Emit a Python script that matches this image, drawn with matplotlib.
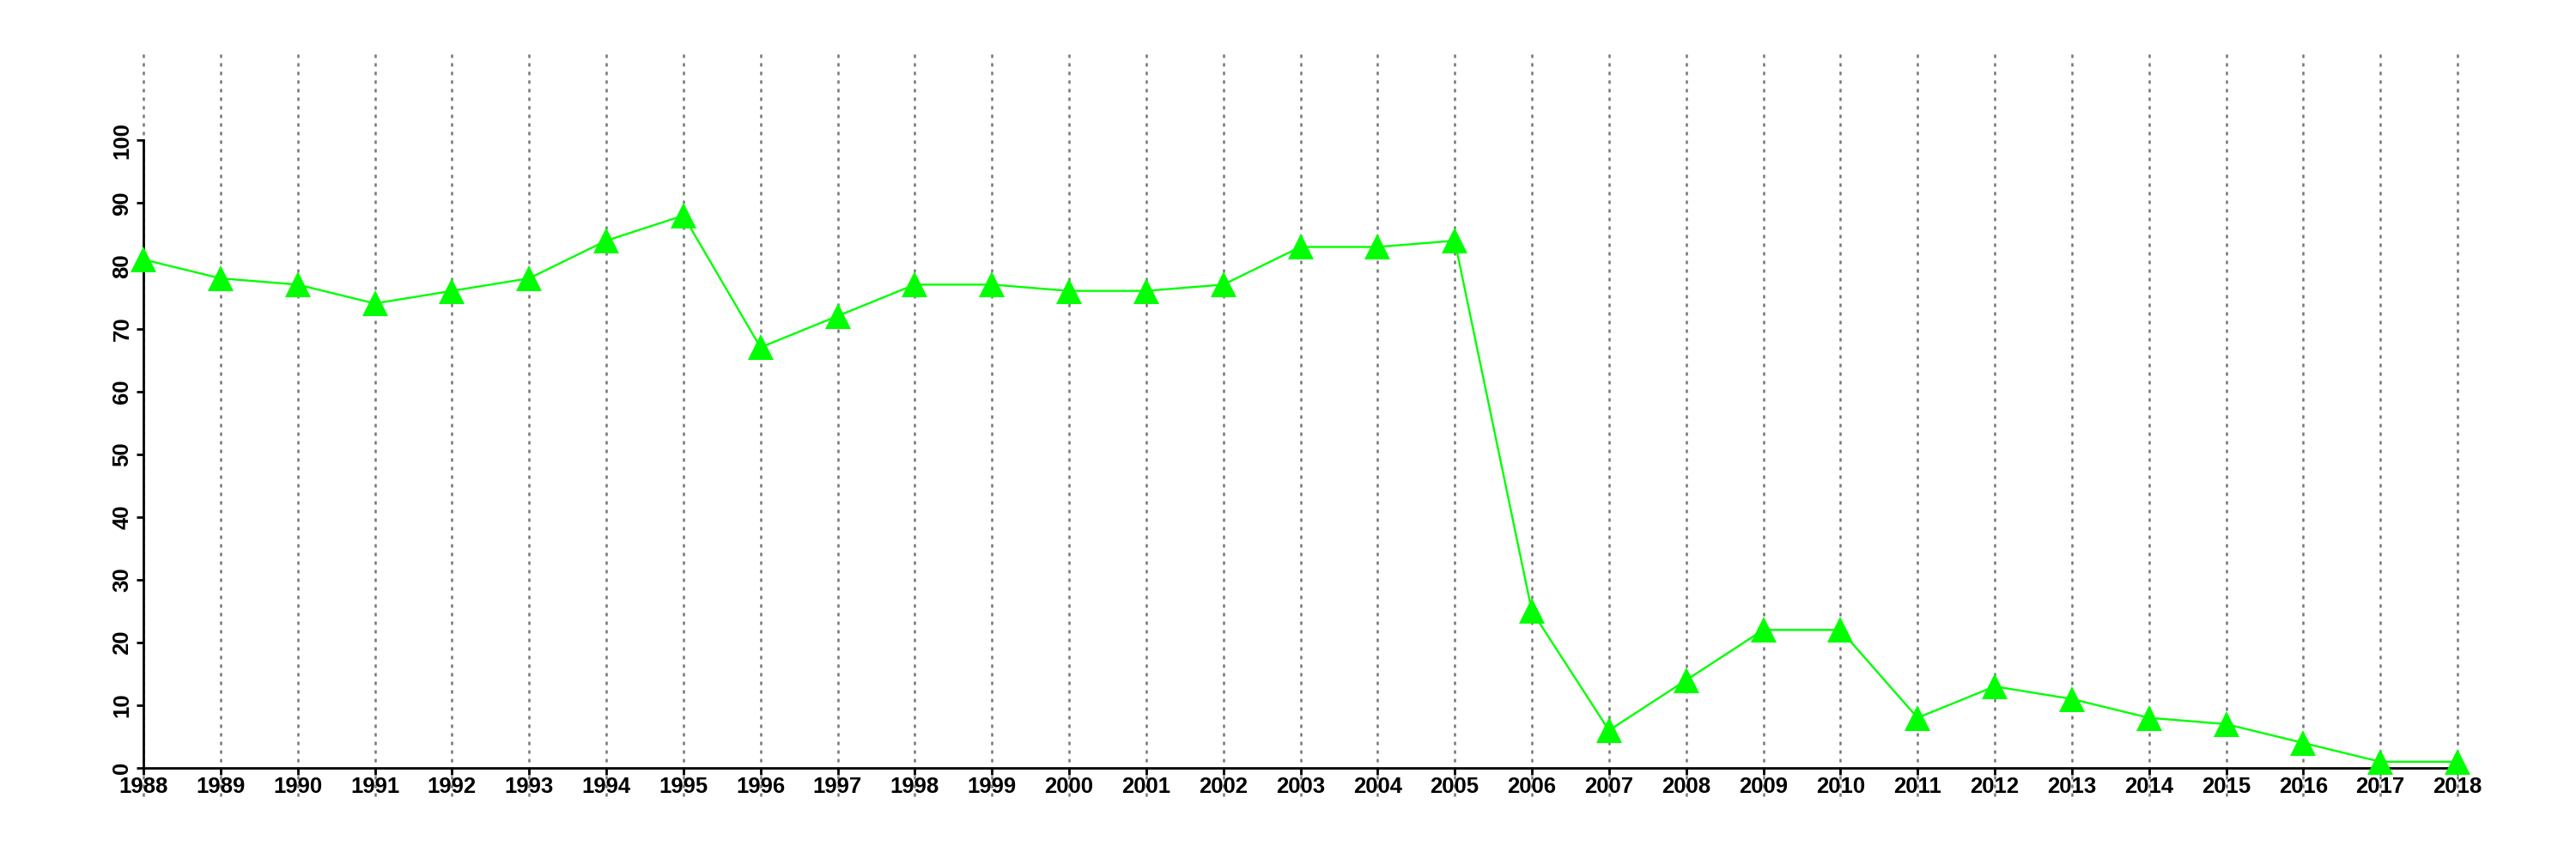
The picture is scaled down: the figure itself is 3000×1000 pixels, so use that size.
import matplotlib
matplotlib.use("Agg")
import matplotlib.pyplot as plt

years = list(range(1988, 2019))
values = [81, 78, 77, 74, 76, 78, 84, 88, 67, 72, 77, 77, 76, 76, 77, 83, 83, 84,
          25, 6, 14, 22, 22, 8, 13, 11, 8, 7, 4, 1, 1]
yticks = list(range(0, 101, 10))

plt.rcParams['font.family'] = ['Liberation Sans', 'DejaVu Sans']

fig = plt.figure(figsize=(30, 10), dpi=100)
# axes box in pixels: x 167..2862, y 58..927 (from top)
ax = fig.add_axes([167/3000, 1 - 927/1000, (2862-167)/3000, (927-58)/1000])
ax.set_xlim(1988, 2018)
ax.set_ylim(-4.5, 114.4)

for yr in years:
    ax.axvline(yr, color='#777777', lw=1.8, ls=(0, (1.6, 2.4)), zorder=1, clip_on=False)

ax.plot(years, values, color='#00ff00', lw=1.7, marker='^', ms=21,
        markeredgewidth=0, clip_on=False, zorder=3)

for s in ['top', 'right']:
    ax.spines[s].set_visible(False)
ax.spines['left'].set_position(('data', 1988))
ax.spines['left'].set_bounds(0, 100)
ax.spines['bottom'].set_position(('data', 0))
ax.spines['bottom'].set_bounds(1988, 2018)
for s in ['left', 'bottom']:
    ax.spines[s].set_linewidth(2)
    ax.spines[s].set_zorder(2)

ax.set_xticks(years)
ax.set_xticklabels([str(y) for y in years], fontsize=18.5, fontweight='bold')
ax.set_yticks(yticks)
ax.set_yticklabels([str(v) for v in yticks], fontsize=18.5, fontweight='bold',
                   rotation=90, va='center')
ax.tick_params(axis='both', length=6, width=2, pad=3)
ax.tick_params(axis='x', pad=1)

fig.savefig('out.png', dpi=100)
